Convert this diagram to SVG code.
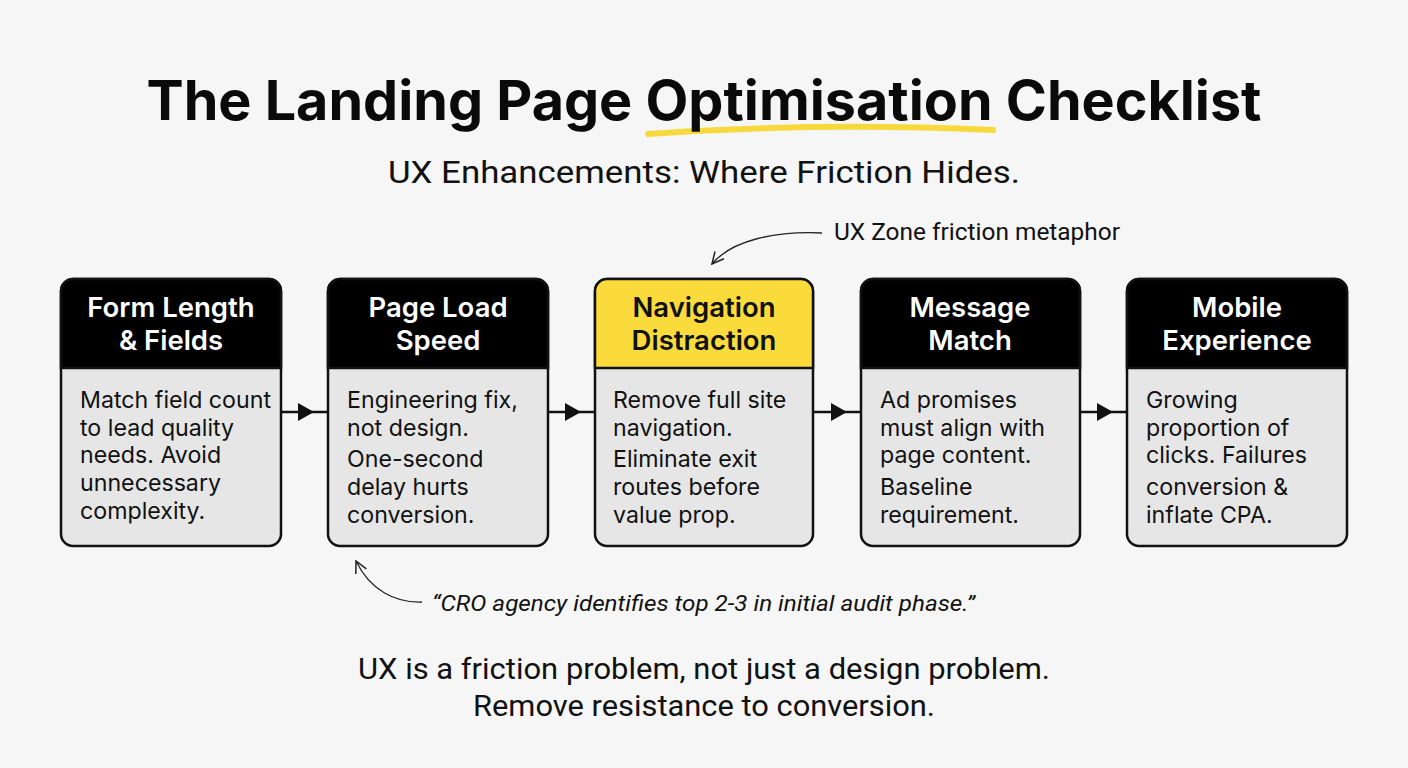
<svg xmlns="http://www.w3.org/2000/svg" width="1408" height="768" viewBox="0 0 1408 768">
<defs>
<style>
.title{font-family:Inter,"Liberation Sans",sans-serif;font-weight:700;font-size:54.5px;fill:#0a0a0a}
.sub{font-family:Roboto,"Liberation Sans",sans-serif;font-size:32px;fill:#111}
.hd{font-family:Inter,"Liberation Sans",sans-serif;font-weight:600;font-size:27.5px;fill:#fff;text-anchor:middle}
.hdy{fill:#111}
.bd{font-family:Inter,"Liberation Sans",sans-serif;font-size:23.2px;fill:#111}
.ann{font-family:Roboto,"Liberation Sans",sans-serif;font-size:24px;fill:#111}
.quote{font-family:Roboto,"Liberation Sans",sans-serif;font-style:italic;font-size:21.5px;fill:#111}
.foot{font-family:Roboto,"Liberation Sans",sans-serif;font-size:30px;fill:#111;text-anchor:middle}
.box{fill:#e6e6e6;stroke:#111;stroke-width:2.5}
.conn{stroke:#111;stroke-width:2.5;fill:none}
.thin{stroke:#222;stroke-width:1.3;fill:none}
</style>
<marker id="open" viewBox="0 0 12 12" refX="11" refY="6" markerWidth="14" markerHeight="14" markerUnits="userSpaceOnUse" orient="auto">
<path d="M1,1 L11,6 L1,11" fill="none" stroke="#222" stroke-width="1.3"/>
</marker>
</defs>
<rect width="1408" height="768" fill="#f6f6f6"/>

<g id="title">
<path d="M648,134 C760,126 880,125 993,130" stroke="#f7d93e" stroke-width="6" stroke-linecap="round" fill="none"/>
<text class="title" x="704" y="120" text-anchor="middle" textLength="1115" lengthAdjust="spacingAndGlyphs">The Landing Page Optimisation Checklist</text>
<text class="sub" x="704" y="183" text-anchor="middle" textLength="632" lengthAdjust="spacingAndGlyphs">UX Enhancements: Where Friction Hides.</text>
</g>

<g id="connectors">
<line class="conn" x1="281" y1="412" x2="328" y2="412"/>
<path d="M298,403 L314,412 L298,421 Z" fill="#111"/>
<line class="conn" x1="548" y1="412" x2="595" y2="412"/>
<path d="M565,403 L581,412 L565,421 Z" fill="#111"/>
<line class="conn" x1="813" y1="412" x2="861" y2="412"/>
<path d="M831,403 L847,412 L831,421 Z" fill="#111"/>
<line class="conn" x1="1080" y1="412" x2="1127" y2="412"/>
<path d="M1097,403 L1113,412 L1097,421 Z" fill="#111"/>
<path class="thin" d="M822,233 C775,231 732,240 712,264" marker-end="url(#open)"/>
<path class="thin" d="M422,602 C395,603 370,590 356,561" marker-end="url(#open)"/>
</g>

<g id="node1">
<rect class="box" x="61" y="279" width="220" height="267" rx="12"/>
<path d="M61,368 V291 A12,12 0 0 1 73,279 H269 A12,12 0 0 1 281,291 V368 Z" fill="#000" stroke="#111" stroke-width="2.5"/>
<text class="hd" x="171" y="317">Form Length</text>
<text class="hd" x="171" y="350">&amp; Fields</text>
<text class="bd"><tspan x="80" y="408">Match field count</tspan><tspan x="80" y="436">to lead quality</tspan><tspan x="80" y="463">needs. Avoid</tspan><tspan x="80" y="491">unnecessary</tspan><tspan x="80" y="519">complexity.</tspan></text>
</g>

<g id="node2">
<rect class="box" x="328" y="279" width="220" height="267" rx="12"/>
<path d="M328,368 V291 A12,12 0 0 1 340,279 H536 A12,12 0 0 1 548,291 V368 Z" fill="#000" stroke="#111" stroke-width="2.5"/>
<text class="hd" x="438" y="317">Page Load</text>
<text class="hd" x="438" y="350">Speed</text>
<text class="bd"><tspan x="347" y="408">Engineering fix,</tspan><tspan x="347" y="436">not design.</tspan><tspan x="347" y="467">One-second</tspan><tspan x="347" y="495">delay hurts</tspan><tspan x="347" y="523">conversion.</tspan></text>
</g>

<g id="node3">
<rect class="box" x="595" y="279" width="218" height="267" rx="12"/>
<path d="M595,368 V291 A12,12 0 0 1 607,279 H801 A12,12 0 0 1 813,291 V368 Z" fill="#fbdb3c" stroke="#111" stroke-width="2.5"/>
<text class="hd hdy" x="704" y="317">Navigation</text>
<text class="hd hdy" x="704" y="350">Distraction</text>
<text class="bd"><tspan x="613" y="408">Remove full site</tspan><tspan x="613" y="436">navigation.</tspan><tspan x="613" y="467">Eliminate exit</tspan><tspan x="613" y="495">routes before</tspan><tspan x="613" y="523">value prop.</tspan></text>
</g>

<g id="node4">
<rect class="box" x="861" y="279" width="219" height="267" rx="12"/>
<path d="M861,368 V291 A12,12 0 0 1 873,279 H1068 A12,12 0 0 1 1080,291 V368 Z" fill="#000" stroke="#111" stroke-width="2.5"/>
<text class="hd" x="970" y="317">Message</text>
<text class="hd" x="970" y="350">Match</text>
<text class="bd"><tspan x="880" y="408">Ad promises</tspan><tspan x="880" y="436">must align with</tspan><tspan x="880" y="463">page content.</tspan><tspan x="880" y="495">Baseline</tspan><tspan x="880" y="523">requirement.</tspan></text>
</g>

<g id="node5">
<rect class="box" x="1127" y="279" width="220" height="267" rx="12"/>
<path d="M1127,368 V291 A12,12 0 0 1 1139,279 H1335 A12,12 0 0 1 1347,291 V368 Z" fill="#000" stroke="#111" stroke-width="2.5"/>
<text class="hd" x="1237" y="317">Mobile</text>
<text class="hd" x="1237" y="350">Experience</text>
<text class="bd"><tspan x="1146" y="408">Growing</tspan><tspan x="1146" y="436">proportion of</tspan><tspan x="1146" y="463">clicks. Failures</tspan><tspan x="1146" y="495">conversion &amp;</tspan><tspan x="1146" y="523">inflate CPA.</tspan></text>
</g>

<g id="annotations">
<text class="ann" x="834" y="240" textLength="286" lengthAdjust="spacingAndGlyphs">UX Zone friction metaphor</text>
<text class="quote" x="432" y="611" textLength="543" lengthAdjust="spacingAndGlyphs">“CRO agency identifies top 2-3 in initial audit phase.”</text>
</g>

<g id="footer">
<text class="foot" x="704" y="679" textLength="692" lengthAdjust="spacingAndGlyphs">UX is a friction problem, not just a design problem.</text>
<text class="foot" x="704" y="716" textLength="462" lengthAdjust="spacingAndGlyphs">Remove resistance to conversion.</text>
</g>
</svg>
